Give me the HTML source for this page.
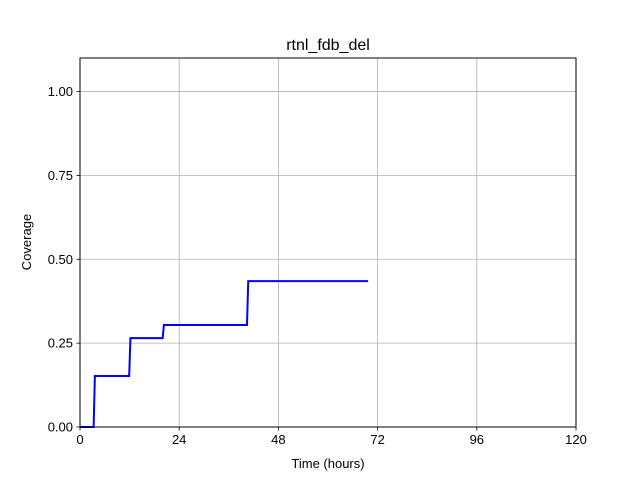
<!DOCTYPE html>
<html><head><meta charset="utf-8"><style>
body{margin:0;background:#fff;}
svg text{font-family:"Liberation Sans","DejaVu Sans",sans-serif;fill:#000;}
</style></head><body>
<svg id="chart" width="640" height="480" xmlns="http://www.w3.org/2000/svg">
<rect width="640" height="480" fill="#fff"/>
<g id="grid"></g>
<g id="series"></g>
<rect x="80" y="58" width="496" height="369" fill="none" stroke="#000" stroke-width="1"/>
<g id="ticks"></g>
<text x="328" y="50" font-size="16" text-anchor="middle">rtnl_fdb_del</text>
<text x="328" y="468" font-size="13" text-anchor="middle">Time (hours)</text>
<text x="31" y="242" font-size="13" text-anchor="middle" transform="rotate(-90 31 242)">Coverage</text>
</svg>
<script>
const xTicks=[0,24,48,72,96,120];
const yTicks=[0,0.25,0.5,0.75,1.0];
const yTickLabels=["0.00","0.25","0.50","0.75","1.00"];
const timeHours=[0,3.3,3.6,11.9,12.2,20,20.3,40.4,40.7,69.7];
const coverage=[0,0,0.152,0.152,0.265,0.265,0.304,0.304,0.435,0.435];
const L=80,R=576,T=58,B=427,xMax=120,yMax=1.1;
const xs=v=>L+(v/xMax)*(R-L);
const ys=v=>B-(v/yMax)*(B-T);
const NS="http://www.w3.org/2000/svg";
const grid=document.getElementById('grid'),ticks=document.getElementById('ticks'),series=document.getElementById('series');
function mk(tag,attrs,parent){const e=document.createElementNS(NS,tag);for(const k in attrs)e.setAttribute(k,attrs[k]);parent.appendChild(e);return e;}
xTicks.forEach(v=>{
  const x=xs(v);
  const g=mk('line',{x1:x,x2:x,y1:T,y2:B,stroke:'#b0b0b0','stroke-width':0.8},grid);
  
  
  const t=mk('line',{x1:x,x2:x,y1:B,y2:B+3.5,stroke:'#000','stroke-width':0.8},ticks);
  
  
  const l=mk('text',{x:x,y:B+17,'font-size':13,'text-anchor':'middle'},ticks);
  l.textContent=v;
  
  
});
yTicks.forEach((v,i)=>{
  const y=ys(v);
  const g=mk('line',{x1:L,x2:R,y1:y,y2:y,stroke:'#b0b0b0','stroke-width':0.8},grid);
  
  
  const t=mk('line',{x1:L-3.5,x2:L,y1:y,y2:y,stroke:'#000','stroke-width':0.8},ticks);
  
  
  const l=mk('text',{x:L-7,y:y+4.5,'font-size':13,'text-anchor':'end'},ticks);
  l.textContent=yTickLabels[i];
  
  
});
const pts=timeHours.map((t,i)=>xs(t)+','+ys(coverage[i])).join(' ');
const line=mk('polyline',{points:pts,fill:'none',stroke:'#0000ff','stroke-width':2},series);


</script>
</body></html>
